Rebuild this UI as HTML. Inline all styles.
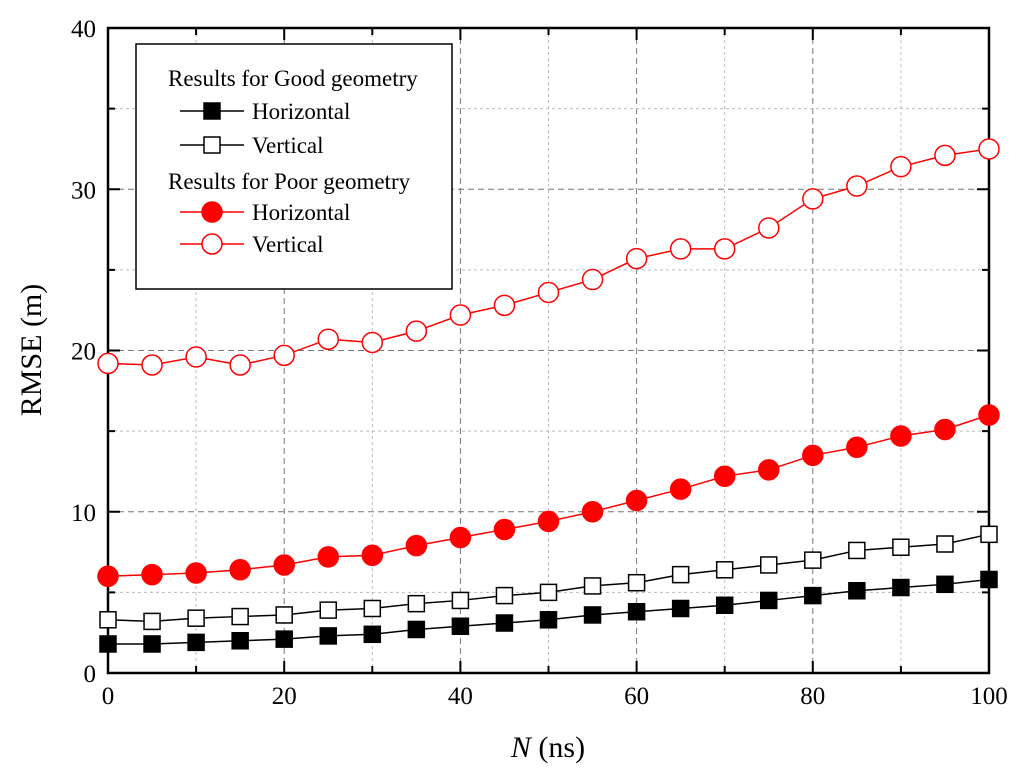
<!DOCTYPE html>
<html><head><meta charset="utf-8"><style>
body{margin:0;background:#fff}
svg{display:block;font-family:"Liberation Serif",serif}
</style></head><body>
<svg id="chart" width="1024" height="775"></svg>
<script>
const xTicks=[0,20,40,60,80,100];
const yTicks=[0,10,20,30,40];
const nValues=[0,5,10,15,20,25,30,35,40,45,50,55,60,65,70,75,80,85,90,95,100];
const goodH=[1.8,1.8,1.9,2.0,2.1,2.3,2.4,2.7,2.9,3.1,3.3,3.6,3.8,4.0,4.2,4.5,4.8,5.1,5.3,5.5,5.8];
const goodV=[3.3,3.2,3.4,3.5,3.6,3.9,4.0,4.3,4.5,4.8,5.0,5.4,5.6,6.1,6.4,6.7,7.0,7.6,7.8,8.0,8.6];
const poorH=[6.0,6.1,6.2,6.4,6.7,7.2,7.3,7.9,8.4,8.9,9.4,10.0,10.7,11.4,12.2,12.6,13.5,14.0,14.7,15.1,16.0];
const poorV=[19.2,19.1,19.6,19.1,19.7,20.7,20.5,21.2,22.2,22.8,23.6,24.4,25.7,26.3,26.3,27.6,29.4,30.2,31.4,32.1,32.5];

const NS='http://www.w3.org/2000/svg';
const svg=document.getElementById('chart');
const L=108,R=989,T=28,B=673;
const X=v=>L+(v-0)/100*(R-L);
const Y=v=>B-(v/40)*(B-T);
function mk(tag,attrs,parent){const e=document.createElementNS(NS,tag);for(const k in attrs)e.setAttribute(k,attrs[k]);(parent||svg).appendChild(e);return e;}

const grid=mk('g',{});


for(let v=10;v<100;v+=10){
  const major=v%20===0;
  const l=mk('line',{x1:X(v),x2:X(v),y1:T,y2:B,stroke:major?'#777':'#bbb','stroke-width':1,'stroke-dasharray':major?'6,4':'3,3'},grid);
  
  
}
for(let v=5;v<40;v+=5){
  const major=v%10===0;
  const l=mk('line',{x1:L,x2:R,y1:Y(v),y2:Y(v),stroke:major?'#777':'#bbb','stroke-width':1,'stroke-dasharray':major?'6,4':'3,3'},grid);
  
  
}
const frame=mk('rect',{x:L,y:T,width:R-L,height:B-T,fill:'none',stroke:'#000','stroke-width':2.5});


for(let v=0;v<=100;v+=10){
  const len=v%20===0?12:7;
  mk('line',{x1:X(v),x2:X(v),y1:B,y2:B-len,stroke:'#000','stroke-width':2});
  mk('line',{x1:X(v),x2:X(v),y1:T,y2:T+len,stroke:'#000','stroke-width':2});
}
for(let v=0;v<=40;v+=5){
  const len=v%10===0?12:7;
  mk('line',{x1:L,x2:L+len,y1:Y(v),y2:Y(v),stroke:'#000','stroke-width':2});
  mk('line',{x1:R,x2:R-len,y1:Y(v),y2:Y(v),stroke:'#000','stroke-width':2});
}
xTicks.forEach(v=>{
  const t=mk('text',{x:X(v),y:B+31,'text-anchor':'middle','font-size':25});
  t.textContent=v;
  
  
});
yTicks.forEach(v=>{
  const t=mk('text',{x:L-12,y:Y(v)+9,'text-anchor':'end','font-size':25});
  t.textContent=v;
  
  
});
const xt=mk('text',{x:548,y:757,'text-anchor':'middle','font-size':30});
xt.innerHTML='<tspan font-style="italic">N</tspan> (ns)';


const yt=mk('text',{x:0,y:0,'text-anchor':'middle','font-size':30,transform:'translate(41,350) rotate(-90)'});
yt.textContent='RMSE (m)';



function marker(g,x,y,type,color){
  if(type==='sq') return mk('rect',{x:x-8,y:y-8,width:16,height:16,fill:color,stroke:'#000','stroke-width':1.5},g);
  return mk('circle',{cx:x,cy:y,r:10,fill:color,stroke:'red','stroke-width':1.5},g);
}
function series(vals,name,line,type,fill){
  const g=mk('g',{});
  
  
  mk('polyline',{points:vals.map((v,i)=>X(nValues[i])+','+Y(v)).join(' '),fill:'none',stroke:line,'stroke-width':1.5},g);
  vals.forEach((v,i)=>{
    const m=marker(g,X(nValues[i]),Y(v),type,fill);
    
    
  });
}
series(goodH,'good-horizontal-series','#000','sq','#000');
series(goodV,'good-vertical-series','#000','sq','#fff');
series(poorH,'poor-horizontal-series','red','ci','red');
series(poorV,'poor-vertical-series','red','ci','#fff');

const lg=mk('g',{});


mk('rect',{x:136,y:44,width:316,height:245,fill:'#fff',stroke:'#000','stroke-width':1.5},lg);
function ltext(x,y,s,n){const t=mk('text',{x:x,y:y,'font-size':23},lg);t.textContent=s;}
ltext(168,86,'Results for Good geometry','legend-group-good');
ltext(168,189,'Results for Poor geometry','legend-group-poor');
const entries=[[111,'#000','sq','#000','Horizontal'],[145,'#000','sq','#fff','Vertical'],[212,'red','ci','red','Horizontal'],[244,'red','ci','#fff','Vertical']];
entries.forEach(e=>{
  const g=mk('g',{},lg);
  
  
  mk('line',{x1:180,x2:244,y1:e[0],y2:e[0],stroke:e[1],'stroke-width':1.5},g);
  marker(g,212,e[0],e[2],e[3]);
  const t=mk('text',{x:252,y:e[0]+8,'font-size':23},g);t.textContent=e[4];
});
</script>
</body></html>
